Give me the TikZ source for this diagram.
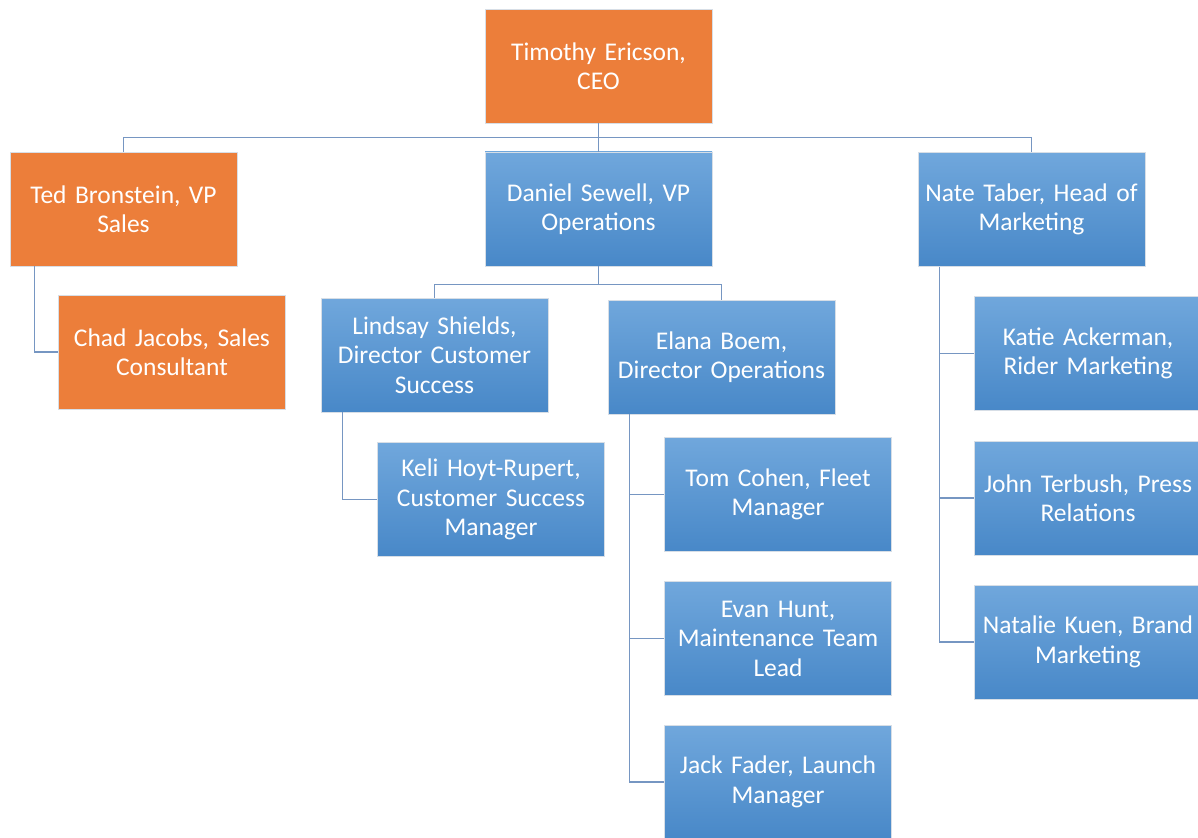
\documentclass[tikz,border=0pt]{standalone}
\usepackage{fontspec}
\setmainfont{Carlito}[WordSpace=0.8]
\usetikzlibrary{positioning,calc}
\definecolor{boxorange}{RGB}{236,126,58}
\definecolor{boxbluetop}{RGB}{112,167,220}
\definecolor{boxbluebot}{RGB}{72,136,200}
\definecolor{linkblue}{RGB}{118,150,194}
\definecolor{rimgray}{RGB}{215,222,230}
\tikzset{
  orgbox/.style={rectangle, draw=rimgray, line width=0.8pt, minimum width=227pt, minimum height=114pt, text width=224pt, align=center, inner sep=0pt, text=white, font=\fontsize{25.5}{29.5}\selectfont},
  orangebox/.style={orgbox, fill=boxorange},
  bluebox/.style={orgbox, top color=boxbluetop, bottom color=boxbluebot},
  link/.style={draw=linkblue, line width=1.6pt}
}
\begin{document}
\begin{tikzpicture}[x=1pt, y=-1pt]
\useasboundingbox (0,0) rectangle (1198,837);
\node[orangebox] (ceo) at (598.5,66) {Timothy Ericson,\\CEO};
\node[orangebox] (ted) at (123.5,209) {Ted Bronstein, VP\\Sales};
\node[bluebox] (daniel) at (598.5,209) {Daniel Sewell, VP\\Operations};
\node[bluebox] (nate) at (1031.5,209.5) {Nate Taber, Head of\\Marketing};
\node[orangebox] (chad) at (172,352) {Chad Jacobs, Sales\\Consultant};
\node[bluebox] (lindsay) at (434.5,355) {Lindsay Shields,\\Director Customer\\Success};
\node[bluebox] (elana) at (721.5,357) {Elana Boem,\\Director Operations};
\node[bluebox] (keli) at (491,499.5) {Keli Hoyt-Rupert,\\Customer Success\\Manager};
\node[bluebox] (tom) at (778,494.5) {Tom Cohen, Fleet\\Manager};
\node[bluebox] (evan) at (778,638.5) {Evan Hunt,\\Maintenance Team\\Lead};
\node[bluebox] (jack) at (778,782) {Jack Fader, Launch\\Manager};
\node[bluebox] (katie) at (1088,353.5) {Katie Ackerman,\\Rider Marketing};
\node[bluebox] (john) at (1088,498) {John Terbush, Press\\Relations};
\node[bluebox] (natalie) at (1088,642) {Natalie Kuen, Brand\\Marketing};
\coordinate (ceofork) at ($(ceo.south)+(0,14)$);
\coordinate (danfork) at ($(daniel.south)+(0,18)$);
\draw[link] (ceo.south)--(ceofork)-|(ted.north) (ceofork)-|(daniel.north) (ceofork)-|(nate.north);
\draw[link] (daniel.south)--(danfork)-|(lindsay.north) (danfork)-|(elana.north);
\draw[link] ([xshift=25pt]ted.south west)|-(chad.west);
\draw[link] ([xshift=22pt]lindsay.south west)|-(keli.west);
\draw[link] ([xshift=22pt]elana.south west)|-(tom.west) ([xshift=22pt]elana.south west)|-(evan.west) ([xshift=22pt]elana.south west)|-(jack.west);
\draw[link] ([xshift=22pt]nate.south west)|-(katie.west) ([xshift=22pt]nate.south west)|-(john.west) ([xshift=22pt]nate.south west)|-(natalie.west);
\end{tikzpicture}
\end{document}
